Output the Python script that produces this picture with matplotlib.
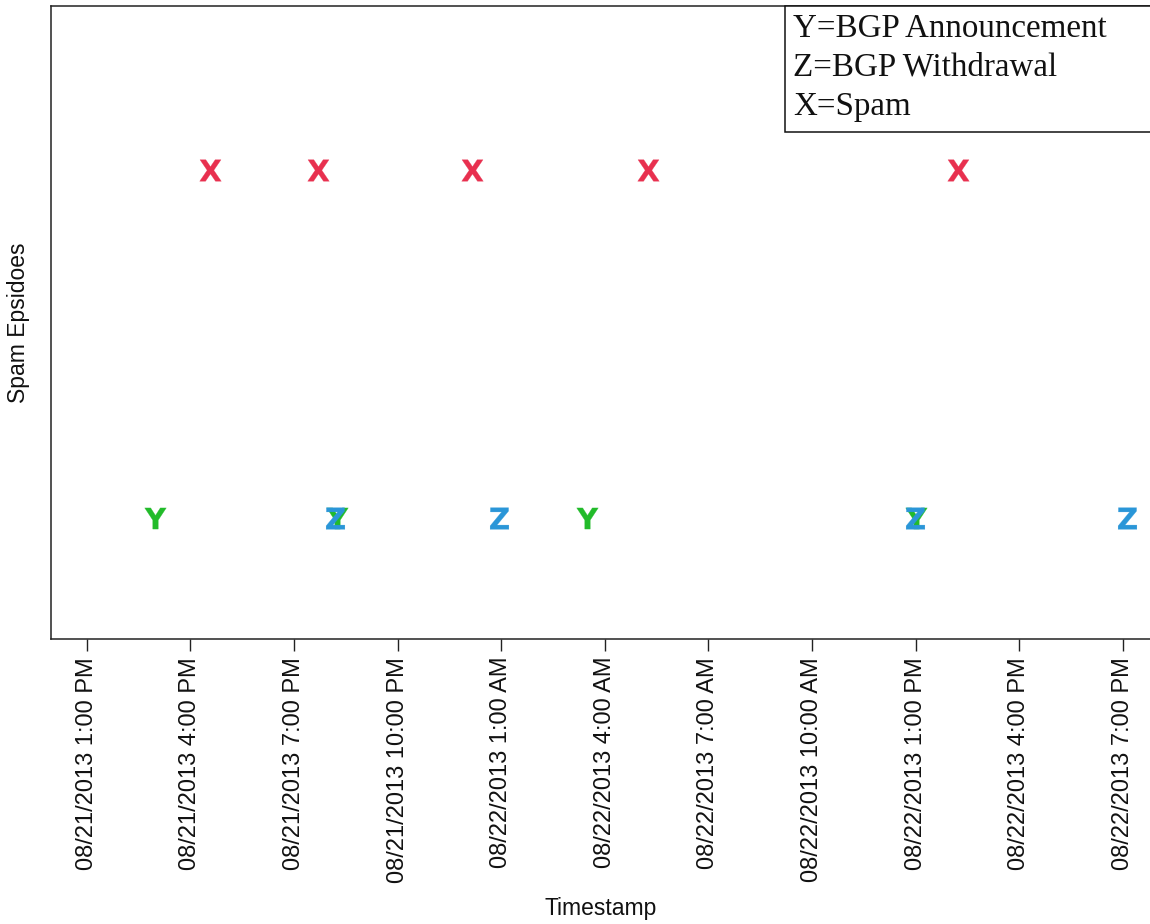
import matplotlib
matplotlib.use("Agg")
import matplotlib.pyplot as plt
import matplotlib.dates as mdates
from matplotlib.patches import Rectangle
import pandas as pd

# ---- data ----
spam_times = ["2013-08-21 16:34", "2013-08-21 19:42", "2013-08-22 00:09",
              "2013-08-22 05:15", "2013-08-22 14:14"]
announce_times = ["2013-08-21 14:59", "2013-08-21 20:14", "2013-08-22 03:29",
                  "2013-08-22 13:01"]
withdraw_times = ["2013-08-21 20:12", "2013-08-22 00:57", "2013-08-22 12:59",
                  "2013-08-22 19:07"]
spam_level = 1
bgp_level = 0
legend_lines = ["Y=BGP Announcement", "Z=BGP Withdrawal", "X=Spam"]

plt.rcParams['mathtext.fontset'] = 'custom'
plt.rcParams['mathtext.rm'] = 'DejaVu Sans:bold'
plt.rcParams['mathtext.bf'] = 'DejaVu Sans:bold'
plt.rcParams['font.family'] = ['Liberation Sans', 'DejaVu Sans']

W, H = 1150, 924
fig = plt.figure(figsize=(W / 100, H / 100), dpi=100)
L, R, T, B = 51, 1150, 6, 639
ax = fig.add_axes([L / W, 1 - B / H, (R - L) / W, (B - T) / H])

st = pd.to_datetime(spam_times)
at = pd.to_datetime(announce_times)
wt = pd.to_datetime(withdraw_times)

c_x = "#e8304f"
c_y = "#22bb2a"
c_z = "#2a96d8"
ms = 15.5
ax.plot(st, [spam_level] * len(st), linestyle="none", marker=r"$\mathrm{X}$",
        markersize=ms, color=c_x, markeredgewidth=0.2)
ax.plot(at, [bgp_level] * len(at), linestyle="none", marker=r"$\mathrm{Y}$",
        markersize=ms, color=c_y, markeredgewidth=0.2)
ax.plot(wt, [bgp_level] * len(wt), linestyle="none", marker=r"$\mathrm{Z}$",
        markersize=ms, color=c_z, markeredgewidth=0.2)

ax.set_xlim(pd.Timestamp("2013-08-21 11:58"), pd.Timestamp("2013-08-22 19:47"))
ax.set_ylim(-0.348, 1.471)

ax.xaxis.set_major_locator(mdates.HourLocator(byhour=[1, 4, 7, 10, 13, 16, 19, 22]))

def fmt(x, pos=None):
    d = mdates.num2date(x)
    h = d.hour % 12
    if h == 0:
        h = 12
    ampm = "AM" if d.hour < 12 else "PM"
    return f"{d.month:02d}/{d.day:02d}/{d.year} {h}:{d.minute:02d} {ampm}"

ax.xaxis.set_major_formatter(plt.FuncFormatter(fmt))
ax.tick_params(axis="x", labelrotation=90, labelsize=17.0, length=8.8,
               width=1.0, pad=4, color="#222222", labelcolor="#111111")
ax.set_yticks([])
for s in ["left", "bottom", "top"]:
    ax.spines[s].set_linewidth(1.1)
    ax.spines[s].set_color("#222222")
ax.spines["right"].set_visible(False)

ax.set_xlabel("Timestamp", fontsize=16.5, color="#111111")
ax.xaxis.set_label_coords(0.5, (B - 909) / (B - T))
ax.xaxis.label.set_va("center")
ax.set_ylabel("Spam Epsidoes", fontsize=16.5, color="#111111")
ax.yaxis.set_label_coords((19 - L) / (R - L), 0.5)
ax.yaxis.label.set_va("center")

# legend box
fig.patches.append(Rectangle((785 / W, 1 - 132 / H), (1160 - 785) / W, (132 - 6) / H,
                             transform=fig.transFigure, facecolor="white",
                             edgecolor="#111111", linewidth=1.1, zorder=5))
for i, line in enumerate(legend_lines):
    fig.text(793 / W, 1 - (37 + 39 * i) / H, line, fontsize=23.8,
             family=["Liberation Serif", "DejaVu Serif"], ha="left",
             va="baseline", color="#111111", zorder=6)

fig.savefig("out.png", dpi=100)
